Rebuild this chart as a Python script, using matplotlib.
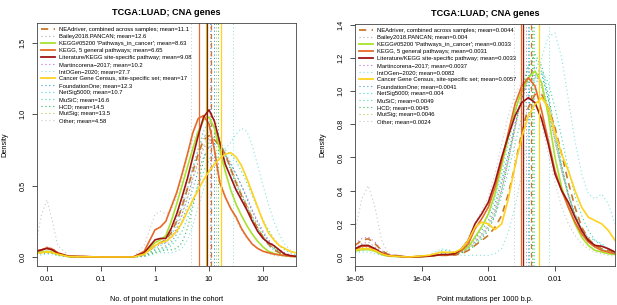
import numpy
from matplotlib import pyplot
from matplotlib.ticker import FixedLocator, NullLocator, FixedFormatter

pyplot.rcParams['font.family'] = ['Liberation Sans', 'DejaVu Sans']

# series names, colours and line styles (R lty: 1 solid, 2 dashed, 3 dotted)
SERIES = ['NEAdriver, combined across samples', 'Bailey2018.PANCAN',
          "KEGG#05200 'Pathways_in_cancer'", 'KEGG, 5 general pathways',
          'Literature/KEGG site-specific pathway', 'Martincorena\u22122017',
          'IntOGen\u22122020', 'Cancer Gene Census, site-specific set',
          'FoundationOne', 'NetSig5000', 'MuSiC', 'HCD', 'MutSig', 'Other']
COLORS = ['#C9782E', '#A9A9A9', '#A8E22E', '#E66A28', '#A01414', '#B570DA',
          '#86E3E3', '#FFD21E', '#3A9FC8', '#3ED6D6', '#3AD8B4', '#2DB85A',
          '#A9C94E', '#C8C8C8']
STYLES = ['dashed', 'dotted', 'solid', 'solid', 'solid', 'dotted', 'dotted',
          'solid', 'dotted', 'dotted', 'dotted', 'dotted', 'dotted', 'dotted']

# ---- left panel: number of point mutations in the cohort (log10 positions)
left_grid = [-2.2, -2.1, -2.0, -1.9, -1.8, -1.6, -1.0, -0.4, -0.2,
             0.0, 0.1, 0.2, 0.3, 0.4, 0.5, 0.6, 0.7, 0.8, 0.9, 1.0, 1.1, 1.2, 1.3,
             1.4, 1.5, 1.6, 1.7, 1.8, 1.9, 2.0, 2.1, 2.2, 2.3, 2.4, 2.5, 2.6]
left_means = [11.1, 12.6, 8.63, 6.65, 9.08, 10.2, 27.7, 17, 12.3, 10.7, 16.6, 14.5, 13.5, 4.58]
left_neadriver = [0.04, 0.05, 0.06, 0.05, 0.025, 0.004, 0, 0, 0.02, 0.08, 0.1, 0.12, 0.17, 0.25, 0.35, 0.48, 0.6, 0.72, 0.82, 0.85, 0.82, 0.78, 0.72, 0.62, 0.52, 0.43, 0.35, 0.27, 0.2, 0.14, 0.09, 0.05, 0.03, 0.015, 0.008, 0.004]
left_bailey = [0.03, 0.045, 0.06, 0.05, 0.02, 0.003, 0, 0, 0.02, 0.08, 0.1, 0.12, 0.18, 0.27, 0.38, 0.5, 0.63, 0.75, 0.84, 0.88, 0.86, 0.8, 0.72, 0.62, 0.52, 0.44, 0.36, 0.28, 0.2, 0.14, 0.09, 0.06, 0.04, 0.02, 0.01, 0.005]
left_kegg05200 = [0.03, 0.035, 0.04, 0.035, 0.02, 0.003, 0, 0, 0.03, 0.1, 0.12, 0.15, 0.25, 0.37, 0.5, 0.63, 0.76, 0.88, 0.96, 0.98, 0.9, 0.75, 0.6, 0.47, 0.37, 0.29, 0.22, 0.16, 0.11, 0.07, 0.04, 0.025, 0.015, 0.01, 0.005, 0.003]
left_kegg5 = [0.04, 0.05, 0.065, 0.055, 0.03, 0.005, 0, 0, 0.04, 0.19, 0.21, 0.25, 0.35, 0.45, 0.58, 0.72, 0.87, 0.97, 0.99, 0.93, 0.75, 0.52, 0.42, 0.34, 0.28, 0.2, 0.14, 0.09, 0.06, 0.04, 0.03, 0.02, 0.015, 0.01, 0.005, 0.003]
left_literature = [0.04, 0.05, 0.06, 0.05, 0.025, 0.005, 0, 0, 0.03, 0.12, 0.13, 0.13, 0.2, 0.3, 0.42, 0.55, 0.7, 0.85, 0.98, 1.03, 0.95, 0.8, 0.65, 0.56, 0.47, 0.4, 0.33, 0.25, 0.18, 0.13, 0.1, 0.08, 0.05, 0.02, 0.01, 0.005]
left_martincorena = [0.03, 0.05, 0.07, 0.06, 0.03, 0.004, 0, 0, 0.02, 0.07, 0.09, 0.1, 0.14, 0.2, 0.3, 0.42, 0.55, 0.66, 0.76, 0.82, 0.82, 0.78, 0.72, 0.65, 0.58, 0.5, 0.42, 0.33, 0.25, 0.18, 0.12, 0.08, 0.05, 0.03, 0.015, 0.008]
left_intogen = [0.01, 0.015, 0.02, 0.015, 0.01, 0.002, 0, 0, 0.005, 0.02, 0.03, 0.03, 0.03, 0.04, 0.06, 0.12, 0.22, 0.35, 0.48, 0.58, 0.66, 0.72, 0.76, 0.8, 0.86, 0.9, 0.88, 0.78, 0.64, 0.5, 0.37, 0.25, 0.16, 0.09, 0.05, 0.02]
left_cgc = [0.025, 0.03, 0.035, 0.03, 0.02, 0.003, 0, 0, 0.02, 0.08, 0.1, 0.11, 0.14, 0.18, 0.24, 0.32, 0.4, 0.47, 0.54, 0.6, 0.65, 0.69, 0.72, 0.73, 0.7, 0.64, 0.55, 0.45, 0.35, 0.25, 0.17, 0.12, 0.08, 0.06, 0.04, 0.03]
left_foundation = [0.02, 0.03, 0.04, 0.03, 0.015, 0.002, 0, 0, 0.01, 0.05, 0.06, 0.07, 0.1, 0.16, 0.25, 0.36, 0.48, 0.6, 0.7, 0.77, 0.79, 0.77, 0.72, 0.66, 0.58, 0.5, 0.41, 0.32, 0.24, 0.17, 0.11, 0.07, 0.04, 0.02, 0.01, 0.005]
left_netsig = [0.02, 0.03, 0.04, 0.03, 0.015, 0.002, 0, 0, 0.01, 0.06, 0.08, 0.1, 0.15, 0.23, 0.34, 0.47, 0.62, 0.76, 0.88, 0.95, 0.92, 0.83, 0.72, 0.6, 0.5, 0.41, 0.33, 0.26, 0.19, 0.13, 0.08, 0.05, 0.03, 0.015, 0.008, 0.004]
left_music = [0.02, 0.025, 0.03, 0.025, 0.012, 0.002, 0, 0, 0.005, 0.04, 0.05, 0.06, 0.08, 0.12, 0.18, 0.27, 0.38, 0.5, 0.6, 0.68, 0.73, 0.75, 0.75, 0.72, 0.67, 0.6, 0.52, 0.43, 0.34, 0.26, 0.19, 0.13, 0.08, 0.05, 0.03, 0.015]
left_hcd = [0.02, 0.025, 0.03, 0.025, 0.012, 0.002, 0, 0, 0.005, 0.03, 0.04, 0.05, 0.05, 0.06, 0.1, 0.2, 0.35, 0.52, 0.68, 0.8, 0.84, 0.8, 0.72, 0.62, 0.52, 0.43, 0.35, 0.27, 0.2, 0.14, 0.09, 0.06, 0.04, 0.02, 0.01, 0.005]
left_mutsig = [0.02, 0.03, 0.04, 0.03, 0.015, 0.002, 0, 0, 0.01, 0.05, 0.06, 0.08, 0.12, 0.19, 0.29, 0.41, 0.55, 0.68, 0.78, 0.84, 0.84, 0.8, 0.72, 0.63, 0.54, 0.45, 0.37, 0.29, 0.22, 0.15, 0.1, 0.06, 0.04, 0.02, 0.01, 0.005]
left_other = [0.1, 0.3, 0.4, 0.25, 0.08, 0.01, 0, 0, 0.08, 0.3, 0.32, 0.3, 0.33, 0.42, 0.55, 0.7, 0.82, 0.88, 0.86, 0.78, 0.66, 0.54, 0.43, 0.34, 0.26, 0.19, 0.13, 0.09, 0.06, 0.04, 0.02, 0.01, 0.005, 0.003, 0.002, 0.001]

# ---- right panel: point mutations per 1000 b.p. (log10 positions)
right_grid = [-5.0, -4.9, -4.8, -4.7, -4.6, -4.5, -4.2, -3.9,
              -3.8, -3.7, -3.6, -3.5, -3.4, -3.3, -3.2, -3.1, -3.0, -2.9, -2.8, -2.7,
              -2.6, -2.5, -2.4, -2.3, -2.2, -2.1, -2.0, -1.9, -1.8, -1.7, -1.6, -1.5,
              -1.4, -1.3, -1.2, -1.1]
right_means = [0.0044, 0.004, 0.0033, 0.0031, 0.0033, 0.0037, 0.0082, 0.0057, 0.0041, 0.004, 0.0049, 0.0045, 0.0046, 0.0024]
right_neadriver = [0.07, 0.1, 0.11, 0.08, 0.04, 0.015, 0.0, 0.005, 0.008, 0.01, 0.01, 0.012, 0.02, 0.04, 0.07, 0.1, 0.13, 0.18, 0.25, 0.38, 0.55, 0.75, 0.9, 0.98, 0.98, 0.9, 0.78, 0.62, 0.45, 0.3, 0.18, 0.11, 0.07, 0.05, 0.04, 0.03]
right_bailey = [0.05, 0.08, 0.09, 0.06, 0.03, 0.01, 0, 0.005, 0.01, 0.01, 0.01, 0.015, 0.03, 0.06, 0.1, 0.14, 0.2, 0.3, 0.45, 0.62, 0.8, 0.95, 1.05, 1.08, 1.02, 0.88, 0.7, 0.52, 0.37, 0.25, 0.16, 0.1, 0.07, 0.05, 0.03, 0.02]
right_kegg05200 = [0.035, 0.045, 0.045, 0.035, 0.015, 0.005, 0.0, 0.005, 0.01, 0.015, 0.015, 0.02, 0.04, 0.06, 0.12, 0.18, 0.26, 0.38, 0.55, 0.72, 0.88, 1.0, 1.08, 1.12, 1.05, 0.85, 0.6, 0.42, 0.3, 0.2, 0.12, 0.07, 0.04, 0.03, 0.02, 0.015]
right_kegg5 = [0.045, 0.065, 0.065, 0.045, 0.02, 0.008, 0.0, 0.005, 0.01, 0.012, 0.012, 0.02, 0.04, 0.08, 0.17, 0.23, 0.3, 0.42, 0.58, 0.75, 0.92, 1.03, 1.08, 1.03, 0.88, 0.7, 0.52, 0.4, 0.3, 0.21, 0.14, 0.09, 0.06, 0.04, 0.03, 0.02]
right_literature = [0.05, 0.07, 0.07, 0.05, 0.025, 0.01, 0.0, 0.005, 0.01, 0.015, 0.015, 0.02, 0.05, 0.1, 0.2, 0.26, 0.33, 0.45, 0.6, 0.73, 0.85, 0.93, 0.96, 0.93, 0.83, 0.68, 0.5, 0.4, 0.33, 0.24, 0.16, 0.1, 0.07, 0.065, 0.05, 0.03]
right_martincorena = [0.08, 0.11, 0.12, 0.09, 0.04, 0.015, 0, 0.005, 0.01, 0.01, 0.01, 0.012, 0.03, 0.05, 0.09, 0.13, 0.18, 0.27, 0.4, 0.58, 0.78, 0.95, 1.07, 1.1, 1.03, 0.88, 0.7, 0.52, 0.37, 0.25, 0.16, 0.1, 0.07, 0.05, 0.03, 0.02]
right_intogen = [0.02, 0.03, 0.03, 0.02, 0.01, 0.004, 0, 0.01, 0.03, 0.05, 0.04, 0.02, 0.01, 0.01, 0.01, 0.01, 0.01, 0.02, 0.05, 0.15, 0.3, 0.5, 0.75, 1.0, 1.2, 1.33, 1.35, 1.2, 0.95, 0.7, 0.5, 0.38, 0.35, 0.38, 0.32, 0.2]
right_cgc = [0.04, 0.05, 0.05, 0.04, 0.02, 0.008, 0.0, 0.01, 0.02, 0.03, 0.028, 0.03, 0.05, 0.1, 0.18, 0.21, 0.2, 0.165, 0.2, 0.35, 0.55, 0.72, 0.85, 0.92, 0.96, 0.9, 0.75, 0.62, 0.52, 0.4, 0.3, 0.24, 0.22, 0.2, 0.16, 0.1]
right_foundation = [0.04, 0.06, 0.065, 0.05, 0.02, 0.008, 0, 0.005, 0.01, 0.02, 0.02, 0.02, 0.04, 0.07, 0.11, 0.16, 0.22, 0.32, 0.46, 0.62, 0.8, 0.96, 1.08, 1.15, 1.1, 0.95, 0.75, 0.55, 0.38, 0.25, 0.16, 0.1, 0.07, 0.05, 0.03, 0.02]
right_netsig = [0.03, 0.05, 0.05, 0.04, 0.02, 0.006, 0, 0.01, 0.02, 0.04, 0.04, 0.03, 0.04, 0.07, 0.12, 0.18, 0.25, 0.35, 0.5, 0.68, 0.86, 1.02, 1.15, 1.2, 1.12, 0.95, 0.73, 0.53, 0.37, 0.25, 0.17, 0.12, 0.1, 0.08, 0.05, 0.03]
right_music = [0.03, 0.04, 0.045, 0.035, 0.015, 0.005, 0, 0.005, 0.01, 0.015, 0.015, 0.015, 0.03, 0.05, 0.08, 0.12, 0.17, 0.25, 0.37, 0.52, 0.68, 0.84, 0.98, 1.08, 1.12, 1.05, 0.9, 0.72, 0.53, 0.37, 0.25, 0.16, 0.1, 0.07, 0.05, 0.03]
right_hcd = [0.04, 0.05, 0.05, 0.04, 0.02, 0.006, 0, 0.005, 0.01, 0.015, 0.015, 0.015, 0.025, 0.04, 0.07, 0.11, 0.16, 0.25, 0.4, 0.58, 0.78, 0.98, 1.15, 1.22, 1.15, 0.98, 0.76, 0.55, 0.38, 0.26, 0.17, 0.11, 0.07, 0.05, 0.03, 0.02]
right_mutsig = [0.04, 0.06, 0.06, 0.045, 0.02, 0.007, 0, 0.005, 0.01, 0.015, 0.015, 0.015, 0.03, 0.05, 0.09, 0.13, 0.19, 0.28, 0.42, 0.6, 0.78, 0.95, 1.08, 1.12, 1.05, 0.9, 0.7, 0.52, 0.37, 0.25, 0.16, 0.1, 0.07, 0.05, 0.03, 0.02]
right_other = [0.15, 0.35, 0.43, 0.3, 0.1, 0.02, 0, 0.005, 0.01, 0.01, 0.01, 0.02, 0.05, 0.12, 0.2, 0.28, 0.36, 0.5, 0.68, 0.85, 0.98, 1.05, 1.05, 0.95, 0.8, 0.62, 0.45, 0.3, 0.2, 0.13, 0.08, 0.05, 0.03, 0.02, 0.01, 0.005]

left_curves = [left_neadriver, left_bailey, left_kegg05200, left_kegg5, left_literature,
               left_martincorena, left_intogen, left_cgc, left_foundation, left_netsig,
               left_music, left_hcd, left_mutsig, left_other]
right_curves = [right_neadriver, right_bailey, right_kegg05200, right_kegg5, right_literature,
                right_martincorena, right_intogen, right_cgc, right_foundation, right_netsig,
                right_music, right_hcd, right_mutsig, right_other]

left_ticks = [0.01, 0.1, 1, 10, 100]
left_ticklabels = ['0.01', '0.1', '1', '10', '100']
right_ticks = [1e-05, 1e-04, 0.001, 0.01]
right_ticklabels = ['1e-05', '1e-04', '0.001', '0.01']


def linestyle(style):
    if style == 'dashed':
        return (0, (4, 3))
    if style == 'dotted':
        return (0, (1, 2.5))
    return 'solid'


def draw_panel(axes, grid, curves, means, xlabel, ticks, ticklabels, yticks, xlim, ylim):
    x = 10 ** numpy.array(grid)
    # dotted sets first, solid/dashed on top
    order = [i for i in range(len(SERIES)) if STYLES[i] == 'dotted'] + \
            [i for i in range(len(SERIES)) if STYLES[i] != 'dotted']
    for i in order:
        width = 0.8 if STYLES[i] == 'dotted' else 1.2
        axes.plot(x, curves[i], color=COLORS[i], linestyle=linestyle(STYLES[i]), linewidth=width)
        axes.axvline(means[i], color=COLORS[i], linestyle=linestyle(STYLES[i]),
                     linewidth=0.7 if STYLES[i] == 'dotted' else 0.9)

    # legend handles in series order
    handles = []
    for i, name in enumerate(SERIES):
        width = 0.8 if STYLES[i] == 'dotted' else 1.3
        h, = axes.plot([], [], color=COLORS[i], linestyle=linestyle(STYLES[i]), linewidth=width,
                       label='%s; mean=%s' % (name, '{:g}'.format(means[i])))
        handles.append(h)
    axes.legend(handles=handles, loc='upper left', frameon=False, fontsize=4.2,
                handlelength=2.4, handletextpad=0.7, labelspacing=0.33,
                borderpad=0.2, borderaxespad=0.5)

    axes.set_xscale('log')
    axes.set_xlim(*xlim)
    axes.set_ylim(*ylim)
    axes.xaxis.set_major_locator(FixedLocator(ticks))
    axes.xaxis.set_major_formatter(FixedFormatter(ticklabels))
    axes.xaxis.set_minor_locator(NullLocator())
    axes.set_yticks(yticks)
    axes.set_yticklabels(['%.1f' % v for v in yticks], rotation=90, va='center')
    axes.tick_params(which='major', length=3.5, width=0.6, labelsize=5.3, pad=4, color='#333333')
    for spine in axes.spines.values():
        spine.set_linewidth(0.6)
        spine.set_color('#444444')
    axes.set_title('TCGA:LUAD; CNA genes', fontsize=6.6, fontweight='bold', pad=6)
    axes.set_xlabel(xlabel, fontsize=5.3, labelpad=9)
    axes.set_ylabel('Density', fontsize=5.3, labelpad=8)


figure = pyplot.figure(figsize=(6.17, 3.05), dpi=100)
axes_left = figure.add_axes([37 / 617, 39 / 305, 259 / 617, 243 / 305])
axes_right = figure.add_axes([355 / 617, 39 / 305, 260 / 617, 242 / 305])

draw_panel(axes_left, left_grid, left_curves, left_means,
           'No. of point mutations in the cohort', left_ticks, left_ticklabels,
           [0.0, 0.5, 1.0, 1.5], (10 ** -2.185, 10 ** 2.61), (-0.063, 1.638))
draw_panel(axes_right, right_grid, right_curves, right_means,
           'Point mutations per 1000 b.p.', right_ticks, right_ticklabels,
           [0.0, 0.2, 0.4, 0.6, 0.8, 1.0, 1.2, 1.4], (10 ** -5.0, 10 ** -1.1), (-0.054, 1.404))

figure.savefig('out.png', dpi=100)
